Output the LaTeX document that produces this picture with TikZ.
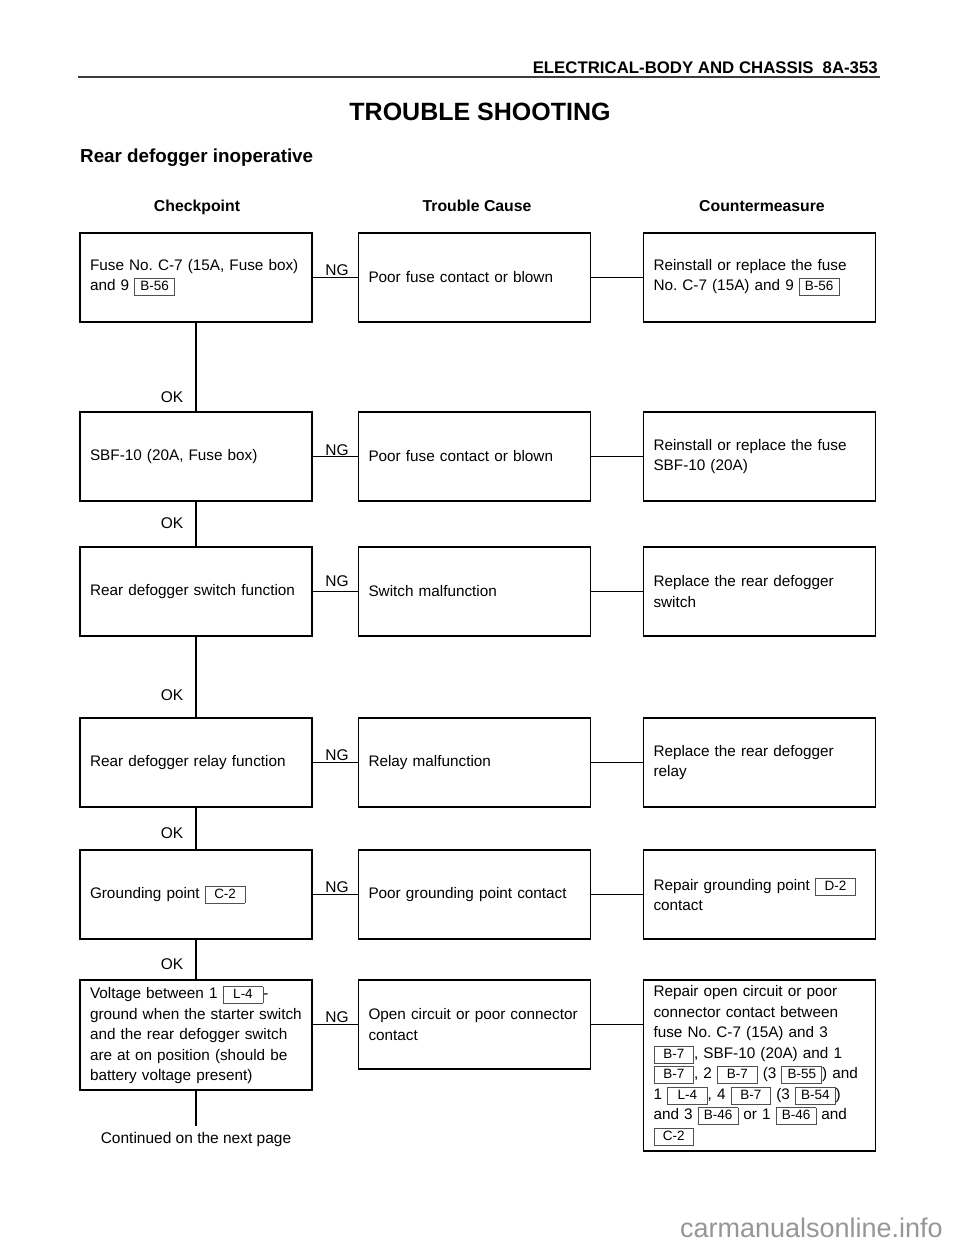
\documentclass[tikz,border=0pt]{standalone}
\usepackage{fontspec}
\setmainfont{Liberation Sans}
\usetikzlibrary{positioning}
\definecolor{tagframe}{RGB}{80,80,80}
\definecolor{rulegray}{RGB}{60,60,60}
\definecolor{markgray}{RGB}{150,150,150}
\setlength{\fboxsep}{1.5pt}
\setlength{\fboxrule}{0.8pt}
\newcommand{\conn}[1]{{\color{tagframe}\fbox{\makebox[36pt]{\color{black}\fontsize{13.5}{14}\selectfont\rule[-3pt]{0pt}{13pt}#1}}}}
\frenchspacing

\begin{document}
\begin{tikzpicture}[x=1pt, y=-1pt,
      box/.style={draw, line width=1.3pt, align=left, text width=212pt,
                  inner xsep=10pt, inner ysep=0pt, minimum height=89pt,
                  font=\fontsize{15.3}{20.5}\selectfont},
      lbl/.style={font=\fontsize{15.5}{18}\selectfont, inner sep=1pt},
      colhead/.style={anchor=base, font=\bfseries\fontsize{15.8}{18}\selectfont},
      wire/.style={line width=1.3pt}
    ]
    \useasboundingbox (0,0) rectangle (960,1242);

    % page head
    \node[anchor=east, font=\bfseries\fontsize{16.8}{18}\selectfont, inner sep=0pt]
      (pagehead) at (878,68) {ELECTRICAL-BODY AND CHASSIS\hspace{9pt}8A-353};
    \draw[line width=1.8pt, rulegray] (78,77) -- (880,77);
    \node[font=\bfseries\fontsize{25}{30}\selectfont] (title) at (480,112) {TROUBLE SHOOTING};
    \node[anchor=west, font=\bfseries\fontsize{18.8}{22}\selectfont, inner sep=0pt]
      (subtitle) at (80,158) {Rear defogger inoperative};

    \node[colhead] (hchk) at (197,211.5) {Checkpoint};
    \node[colhead] (hcause) at (477,211.5) {Trouble Cause};
    \node[colhead] (hfix) at (762,211.5) {Countermeasure};

    % checkpoints
    \node[box] (chk1) at (196,277.5) {Fuse No. C-7 (15A, Fuse box)\\ and 9 \conn{B-56}};
    \node[box] (chk2) at (196,456.5) {SBF-10 (20A, Fuse box)};
    \node[box] (chk3) at (196,591.5) {Rear defogger switch function};
    \node[box] (chk4) at (196,762.5) {Rear defogger relay function};
    \node[box] (chk5) at (196,894.5) {Grounding point \conn{C-2}};
    \node[box, minimum height=110pt] (chk6) at (196,1035) {%
      Voltage between 1 \conn{L-4}-\\
      ground when the starter switch\\
      and the rear defogger switch\\
      are at on position (should be\\
      battery voltage present)};

    % trouble causes
    \node[box] (cause1) at (474.5,277.5) {Poor fuse contact or blown};
    \node[box] (cause2) at (474.5,456.5) {Poor fuse contact or blown};
    \node[box] (cause3) at (474.5,591.5) {Switch malfunction};
    \node[box] (cause4) at (474.5,762.5) {Relay malfunction};
    \node[box] (cause5) at (474.5,894.5) {Poor grounding point contact};
    \node[box] (cause6) at (474.5,1024.5) {Open circuit or poor connector\\ contact};

    % countermeasures
    \node[box] (fix1) at (759.5,277.5) {Reinstall or replace the fuse\\ No. C-7 (15A) and 9 \conn{B-56}};
    \node[box] (fix2) at (759.5,456.5) {Reinstall or replace the fuse\\ SBF-10 (20A)};
    \node[box] (fix3) at (759.5,591.5) {Replace the rear defogger\\ switch};
    \node[box] (fix4) at (759.5,762.5) {Replace the rear defogger\\ relay};
    \node[box] (fix5) at (759.5,894.5) {Repair grounding point \conn{D-2}\\ contact};
    \node[box, minimum height=171pt] (fix6) at (759.5,1065.5) {%
      Repair open circuit or poor\\
      connector contact between\\
      fuse No. C-7 (15A) and 3\\
      \conn{B-7}, SBF-10 (20A) and 1\\
      \conn{B-7}, 2 \conn{B-7} (3 \conn{B-55}) and\\
      1 \conn{L-4}, 4 \conn{B-7} (3 \conn{B-54})\\
      and 3 \conn{B-46} or 1 \conn{B-46} and\\
      \conn{C-2}};

    \node[lbl] (cont) at (196,1139) {Continued on the next page};

    % OK / NG labels
    \node[lbl] (ok1) at (172,397) {OK};
    \node[lbl] (ok2) at (172,523) {OK};
    \node[lbl] (ok3) at (172,695) {OK};
    \node[lbl] (ok4) at (172,833) {OK};
    \node[lbl] (ok5) at (172,964) {OK};
    \node[lbl] (ng1) at (337,270) {NG};
    \node[lbl] (ng2) at (337,450) {NG};
    \node[lbl] (ng3) at (337,581) {NG};
    \node[lbl] (ng4) at (337,755) {NG};
    \node[lbl] (ng5) at (337,887) {NG};
    \node[lbl] (ng6) at (337,1017) {NG};

    \draw[wire] (chk1)--(chk2);
    \draw[wire] (chk2)--(chk3);
    \draw[wire] (chk3)--(chk4);
    \draw[wire] (chk4)--(chk5);
    \draw[wire] (chk5)--(chk6);
    \draw[wire, shorten >=5pt] (chk6)--(cont);

    \draw[wire] (chk1)--(cause1);
    \draw[wire] (chk2)--(cause2);
    \draw[wire] (chk3)--(cause3);
    \draw[wire] (chk4)--(cause4);
    \draw[wire] (chk5)--(cause5);
    \draw[wire] (chk6.east |- cause6.west)--(cause6.west);

    \draw[wire] (cause1)--(fix1);
    \draw[wire] (cause2)--(fix2);
    \draw[wire] (cause3)--(fix3);
    \draw[wire] (cause4)--(fix4);
    \draw[wire] (cause5)--(fix5);
    \draw[wire] (cause6.east)--(fix6.west |- cause6.east);

    \node[anchor=east, font=\fontsize{27}{30}\selectfont, text=markgray, inner sep=0pt]
      (mark) at (943,1228) {carmanualsonline.info};
  \end{tikzpicture}
\end{document}
